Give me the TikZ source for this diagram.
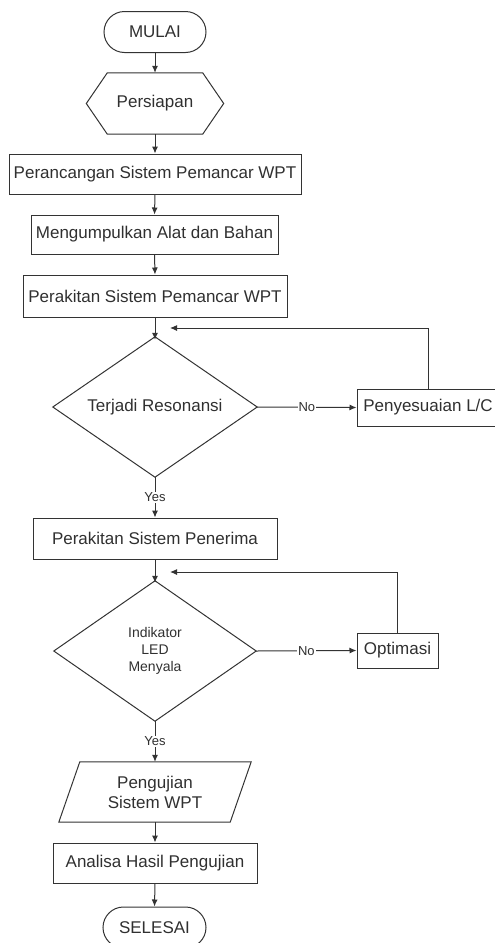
\documentclass[tikz,border=0pt]{standalone}
\usepackage{fontspec}
\setmainfont{Liberation Sans}
\usetikzlibrary{arrows.meta,shapes.misc}
\definecolor{ln}{HTML}{333333}
\definecolor{tx}{HTML}{303030}
\tikzset{
  base/.style={inner sep=0pt, text=tx, font=\fontsize{17}{20}\selectfont, align=center},
  box/.style={base, draw=ln, line width=1pt, rectangle},
  term/.style={base, draw=ln, line width=1pt, rounded rectangle},
  ghost/.style={base, rectangle},
  lab/.style={inner sep=1pt, fill=white, text=tx, font=\fontsize{13}{15}\selectfont},
  arr/.style={draw=ln, line width=1pt, -{Latex[length=7pt,width=6pt]}},
  shp/.style={draw=ln, line width=1pt},
}
\begin{document}
\begin{tikzpicture}[x=1pt,y=-1pt]
\useasboundingbox (0,0) rectangle (495,943);
\clip (0,0) rectangle (495,943);

\node[term, minimum width=102pt, minimum height=41pt] (start) at (155,32) {MULAI};
\node[ghost, minimum width=137pt, minimum height=61pt] (prep) at (155,103.5) {Persiapan};
\draw[shp] (prep.west) -- ([xshift=21pt]prep.north west) -- ([xshift=-21pt]prep.north east)
  -- (prep.east) -- ([xshift=-21pt]prep.south east) -- ([xshift=21pt]prep.south west) -- cycle;
\node[box, minimum width=292pt, minimum height=40pt] (design) at (155,174) {Perancangan Sistem Pemancar WPT};
\node[box, minimum width=247pt, minimum height=39pt] (collect) at (154.5,234.5) {Mengumpulkan Alat dan Bahan};
\node[box, minimum width=264pt, minimum height=42pt] (tx) at (155,296) {Perakitan Sistem Pemancar WPT};

\node[ghost, minimum width=204pt, minimum height=140pt] (d1) at (155,407) {Terjadi Resonansi};
\draw[shp] (d1.north) -- (d1.east) -- (d1.south) -- (d1.west) -- cycle;
\node[box, minimum width=142pt, minimum height=37pt] (adj) at (428,407.5) {Penyesuaian L/C};

\node[box, minimum width=244pt, minimum height=41pt] (rx) at (155,538.5) {Perakitan Sistem Penerima};

\node[ghost, minimum width=202pt, minimum height=140pt, font=\fontsize{14}{17}\selectfont] (d2) at (155,651) {Indikator\\LED\\Menyala};
\draw[shp] (d2.north) -- (d2.east) -- (d2.south) -- (d2.west) -- cycle;
\node[box, minimum width=81pt, minimum height=35pt] (opt) at (397.5,650.5) {Optimasi};

\node[ghost, minimum width=192pt, minimum height=60pt] (test) at (155,792) {Pengujian\\Sistem WPT};
\draw[shp] ([xshift=21pt]test.north west) -- (test.north east) -- ([xshift=-21pt]test.south east)
  -- (test.south west) -- cycle;
\node[box, minimum width=204pt, minimum height=40pt] (anal) at (155,863) {Analisa Hasil Pengujian};
\node[term, minimum width=103pt, minimum height=41pt] (stop) at (154.5,927.5) {SELESAI};

\coordinate (fb1) at (170,328);
\coordinate (fb2) at (170,572);

\draw[arr] (start.south) -- (prep.north);
\draw[arr] (prep.south) -- (design.north);
\draw[arr] (design.south) -- (collect.north);
\draw[arr] (collect.south) -- (tx.north);
\draw[arr] (tx.south) -- ([yshift=-3pt]d1.north);
\draw[arr] (d1.east) -- node[lab] {No} (adj.west);
\draw[arr] (adj.north) |- (fb1);
\draw[arr] (d1.south) -- node[lab] {Yes} (rx.north);
\draw[arr] (rx.south) -- ([yshift=-2pt]d2.north);
\draw[arr] (d2.east) -- node[lab] {No} (opt.west);
\draw[arr] (opt.north) |- (fb2);
\draw[arr] (d2.south) -- node[lab] {Yes} (test.north);
\draw[arr] (test.south) -- (anal.north);
\draw[arr] (anal.south) -- (stop.north);
\end{tikzpicture}
\end{document}
